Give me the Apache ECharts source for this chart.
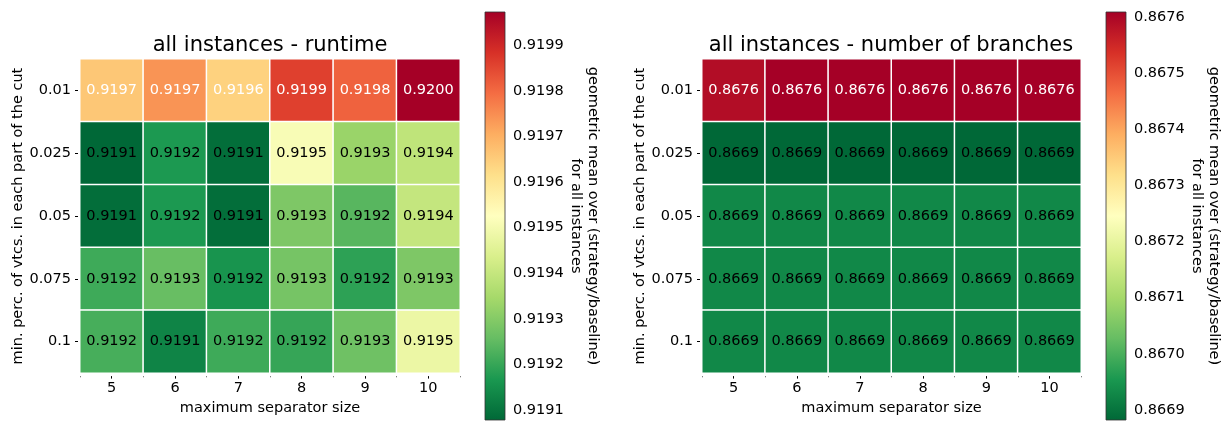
<!DOCTYPE html>
<html>
<head>
<meta charset="utf-8">
<script src="https://cdn.jsdelivr.net/npm/echarts@6/dist/echarts.min.js"></script>
<style>
  html, body { margin: 0; padding: 0; background: #fff; }
  #chart { width: 1228px; height: 421px; }
</style>
</head>
<body>
<div id="chart"></div>
<script>
// Categories
const sepSizes = ['5', '6', '7', '8', '9', '10'];
const minPercs = ['0.01', '0.025', '0.05', '0.075', '0.1'];

// Geometric mean of strategy/baseline, one row per min. percentage
const runtimeRows = [
  [0.91966, 0.91974, 0.91964, 0.91986, 0.91981, 0.919973],
  [0.919078, 0.91917, 0.91909, 0.91951, 0.91933, 0.91939],
  [0.91909, 0.91917, 0.91909, 0.91929, 0.91924, 0.91940],
  [0.91921, 0.91926, 0.91916, 0.91928, 0.91919, 0.91929],
  [0.91922, 0.91913, 0.91921, 0.91920, 0.91927, 0.91948]
];
const branchRows = [
  [0.86759, 0.867609, 0.867609, 0.867609, 0.867609, 0.867609],
  [0.866882, 0.866882, 0.866882, 0.866882, 0.866882, 0.866882],
  [0.86693, 0.86693, 0.86693, 0.86693, 0.86693, 0.86693],
  [0.86693, 0.86693, 0.86693, 0.86693, 0.86693, 0.86693],
  [0.86693, 0.86693, 0.86693, 0.86693, 0.86693, 0.86693]
];

// Colorbar tick labels
const runtimeTicks = [0.9191, 0.9192, 0.9193, 0.9194, 0.9195, 0.9196, 0.9197, 0.9198, 0.9199];
const branchTicks = [0.8669, 0.8670, 0.8671, 0.8672, 0.8673, 0.8674, 0.8675, 0.8676];

// RdYlGn reversed: low = green, high = red
const rdYlGnR = ['#006837', '#1a9850', '#66bd63', '#a6d96a', '#d9ef8b', '#ffffbf',
                 '#fee08b', '#fdae61', '#f46d43', '#d73027', '#a50026'];

const FONT = 'DejaVu Sans';
const FS = 14.5;

function range(rows) {
  const flat = rows.flat();
  return [Math.min(...flat), Math.max(...flat)];
}

function cells(rows, lo, hi) {
  const out = [];
  rows.forEach((row, yi) => {
    row.forEach((v, xi) => {
      const t = (v - lo) / (hi - lo);
      out.push({ value: [xi, yi, v], label: { color: t > 0.5 ? '#ffffff' : '#000000' } });
    });
  });
  return out;
}

const [rtMin, rtMax] = range(runtimeRows);
const [brMin, brMax] = range(branchRows);

const cbName = 'geometric mean over (strategy/baseline)\nfor all instances';
const textStyle = { fontFamily: FONT, fontSize: FS, color: '#000' };

function heatAxes(gi) {
  return {
    x: {
      type: 'category', gridIndex: gi, data: sepSizes, position: 'bottom', offset: 3,
      axisLine: { show: false },
      axisTick: { show: true, alignWithLabel: true, length: 2.5, lineStyle: { color: '#000', width: 1 } },
      axisLabel: Object.assign({ margin: 5 }, textStyle),
      splitLine: { show: false },
      name: 'maximum separator size', nameLocation: 'middle', nameGap: 24,
      nameTextStyle: textStyle
    },
    // faint marks at the cell boundaries below each heatmap
    xEdge: {
      type: 'category', gridIndex: gi, data: sepSizes, position: 'bottom', offset: 3,
      axisLine: { show: false },
      axisTick: { show: true, alignWithLabel: false, length: 1.2, lineStyle: { color: '#777', width: 1 } },
      axisLabel: { show: false },
      splitLine: { show: false }
    },
    y: {
      type: 'category', gridIndex: gi, data: minPercs, inverse: true, offset: 2,
      axisLine: { show: false },
      axisTick: { show: true, alignWithLabel: true, length: 3, lineStyle: { color: '#000', width: 1 } },
      axisLabel: Object.assign({ margin: 7 }, textStyle),
      splitLine: { show: false },
      name: 'min. perc. of vtcs. in each part of the cut', nameLocation: 'middle', nameGap: 52,
      nameRotate: 90,
      nameTextStyle: textStyle
    }
  };
}

function cbAxes(gi, lo, hi, ticks) {
  return {
    x: { type: 'value', gridIndex: gi, min: 0, max: 1, show: false },
    y: {
      type: 'value', gridIndex: gi, min: lo, max: hi, position: 'right',
      axisLine: { show: false },
      splitLine: { show: false },
      axisTick: { show: true, length: 3.5, customValues: ticks, lineStyle: { color: '#000', width: 1 } },
      axisLabel: Object.assign({
        customValues: ticks, margin: 8,
        formatter: v => v.toFixed(4)
      }, textStyle),
      name: cbName, nameLocation: 'middle', nameRotate: -90, nameGap: 62,
      nameTextStyle: Object.assign({ align: 'center', lineHeight: 17 }, textStyle)
    }
  };
}

function colorbarSeries(xi, lo, hi) {
  const stops = rdYlGnR.map((c, i) => ({ offset: i / (rdYlGnR.length - 1), color: c }));
  return {
    type: 'custom', xAxisIndex: xi, yAxisIndex: xi, silent: true,
    data: [[0]],
    renderItem: (params, api) => {
      const a = api.coord([0, hi]);
      const b = api.coord([1, lo]);
      return {
        type: 'rect',
        shape: { x: a[0], y: a[1], width: b[0] - a[0], height: b[1] - a[1] },
        style: {
          fill: new echarts.graphic.LinearGradient(0, 1, 0, 0, stops),
          stroke: '#333', lineWidth: 0.8
        }
      };
    }
  };
}

function heatSeries(xi, yi, rows, lo, hi) {
  return {
    type: 'heatmap', xAxisIndex: xi, yAxisIndex: yi,
    data: cells(rows, lo, hi),
    itemStyle: { borderColor: '#ffffff', borderWidth: 1.5 },
    label: {
      show: true, fontFamily: FONT, fontSize: FS,
      formatter: p => p.value[2].toFixed(4)
    },
    emphasis: { disabled: true }
  };
}

const h0 = heatAxes(0), c1 = cbAxes(1, rtMin, rtMax, runtimeTicks);
const h2 = heatAxes(2), c3 = cbAxes(3, brMin, brMax, branchTicks);

const option = {
  animation: false,
  backgroundColor: '#ffffff',
  title: [
    { text: 'all instances - runtime', left: 270, top: 35, textAlign: 'center', padding: 0,
      textStyle: { fontFamily: FONT, fontSize: 21, fontWeight: 'normal', color: '#000' } },
    { text: 'all instances - number of branches', left: 891, top: 35, textAlign: 'center', padding: 0,
      textStyle: { fontFamily: FONT, fontSize: 21, fontWeight: 'normal', color: '#000' } }
  ],
  grid: [
    { left: 80, top: 59, width: 380, height: 315 },
    { left: 485, top: 12, width: 20, height: 408 },
    { left: 702, top: 59, width: 379, height: 315 },
    { left: 1106, top: 12, width: 20, height: 408 }
  ],
  // x axes: 0 heat, 1 colorbar, 2 heat, 3 colorbar, 4/5 boundary marks
  xAxis: [h0.x, c1.x, h2.x, c3.x, h0.xEdge, h2.xEdge],
  yAxis: [h0.y, c1.y, h2.y, c3.y],
  visualMap: [
    { type: 'continuous', show: false, seriesIndex: 0, min: rtMin, max: rtMax, inRange: { color: rdYlGnR } },
    { type: 'continuous', show: false, seriesIndex: 2, min: brMin, max: brMax, inRange: { color: rdYlGnR } }
  ],
  series: [
    heatSeries(0, 0, runtimeRows, rtMin, rtMax),
    colorbarSeries(1, rtMin, rtMax),
    heatSeries(2, 2, branchRows, brMin, brMax),
    colorbarSeries(3, brMin, brMax)
  ]
};

const chart = echarts.init(document.getElementById('chart'), null, { renderer: 'canvas' });
chart.setOption(option);
</script>
</body>
</html>
